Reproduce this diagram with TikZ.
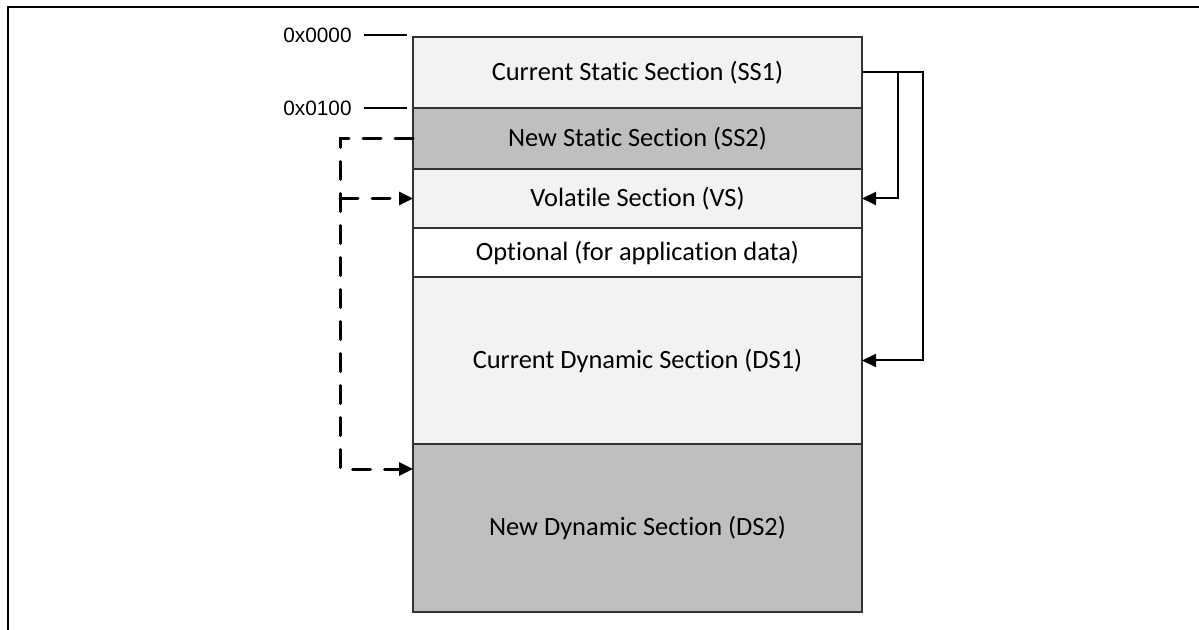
\documentclass[tikz,border=0pt]{standalone}
\usepackage{fontspec}
\setmainfont{Carlito}[Ligatures=NoCommon]
\newfontfamily\addrfont{Liberation Sans}
\usetikzlibrary{arrows.meta}
\definecolor{curfill}{HTML}{F2F2F2}
\definecolor{newfill}{HTML}{BFBFBF}
\tikzset{
    section/.style={draw=black!80, line width=0.6pt, minimum width=224.5pt,
        inner sep=0pt, outer sep=0pt, font=\fontsize{13.2}{15}\selectfont},
    current/.style={section, fill=curfill},
    newsec/.style={section, fill=newfill},
    addr/.style={anchor=east, inner sep=0pt, font=\addrfont\fontsize{10.4}{12}\selectfont},
    copyline/.style={line width=1pt, -{Triangle[length=7pt,width=6.5pt]}},
    moveline/.style={line width=1.5pt, line cap=round, dash pattern=on 9pt off 7pt,
        -{Triangle[length=7pt,width=6.5pt]}}
}
\begin{document}
\begin{tikzpicture}[x=0.5pt,y=-0.5pt]
    \useasboundingbox (0,0) rectangle (1199,630);
    \draw[line width=1pt] (8,630) -- (8,7) -- (1199,7);
    % memory sections
    \node[current, minimum height=35.5pt] (ss1) at (637.5,72.5) {Current Static Section (SS1)};
    \node[newsec, minimum height=30.5pt] (ss2) at (637.5,138.5) {New Static Section (SS2)};
    \node[current, minimum height=29.5pt] (vs) at (637.5,198.5) {Volatile Section (VS)};
    \node[section, fill=white, minimum height=24.5pt] (opt) at (637.5,252.5) {Optional (for application data)};
    \node[current, minimum height=83.5pt] (ds1) at (637.5,360.5) {Current Dynamic Section (DS1)};
    \node[newsec, minimum height=84pt] (ds2) at (637.5,528) {New Dynamic Section (DS2)};
    % addresses
    \node[addr] (a0) at (352,35) {0x0000};
    \node[addr] (a1) at (352,108) {0x0100};
    \draw[line width=0.6pt] ([xshift=6pt]a0.east) -- ([xshift=-3pt]a0.east -| ss1.west);
    \draw[line width=0.6pt] ([xshift=6pt]a1.east) -- ([xshift=-3pt]a1.east -| ss1.west);
    % copies on the right
    \draw[copyline] (ss1.east) -- ++(36,0) |- (vs.east);
    \draw[copyline] (ss1.east) -- ++(61,0) |- (ds1.east);
    % moves on the left
    \coordinate (ds2in) at ([yshift=-12.5pt]ds2.north west);
    \coordinate (split) at (340,0);
    \draw[moveline] (ss2.west) -- (ss2.west -| split) |- (ds2in);
    \draw[moveline] (vs.west -| split) -- (vs.west);
\end{tikzpicture}
\end{document}
